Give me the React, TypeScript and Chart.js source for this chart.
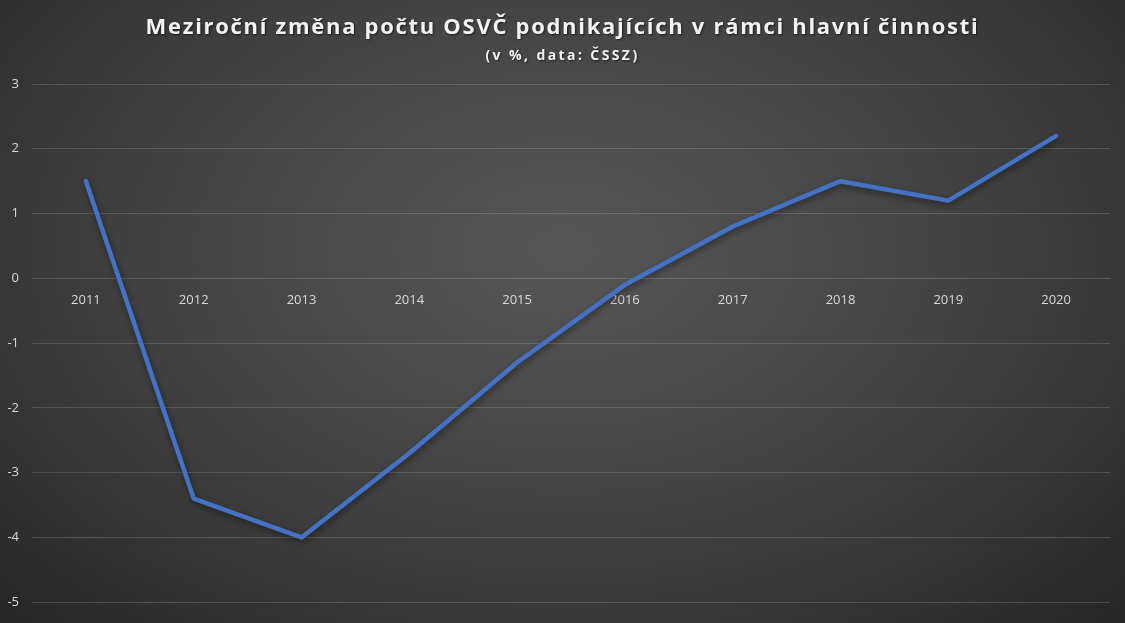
import React, { useEffect, useRef } from "react";
import { Chart, registerables } from "chart.js";

Chart.register(...registerables);

const years = ["2011", "2012", "2013", "2014", "2015", "2016", "2017", "2018", "2019", "2020"];
const changePct = [1.5, -3.4, -4.0, -2.7, -1.3, -0.1, 0.8, 1.5, 1.2, 2.2];
const titleText = "Meziroční změna počtu OSVČ podnikajících v rámci hlavní činnosti";
const subtitleText = "(v %, data: ČSSZ)";

const shadowPlugin = {
  id: "lineShadow",
  beforeDatasetDraw(chart: any) {
    const ctx = chart.ctx;
    ctx.save();
    ctx.shadowColor = "rgba(0,0,0,0.45)";
    ctx.shadowBlur = 6;
    ctx.shadowOffsetX = 1;
    ctx.shadowOffsetY = 3;
  },
  afterDatasetDraw(chart: any) {
    chart.ctx.restore();
  },
};

export default function App() {
  const ref = useRef<HTMLCanvasElement>(null);

  useEffect(() => {
    document.body.style.margin = "0";
    const canvas = ref.current!;
    const chart = new Chart(canvas, {
      type: "line",
      data: {
        labels: years,
        datasets: [
          {
            data: changePct,
            borderColor: "#4472C4",
            borderWidth: 4.5,
            pointRadius: 0,
            tension: 0,
            borderCapStyle: "round",
            borderJoinStyle: "round",
          },
        ],
      },
      options: {
        animation: false,
        responsive: false,
        layout: { padding: { left: 6, right: 15, top: 84, bottom: 8 } },
        plugins: {
          legend: { display: false },
          tooltip: { enabled: false },
          title: { display: false },
        },
        scales: {
          x: {
            offset: true,
            position: { y: 0 } as any,
            grid: { display: false },
            border: { display: false },
            ticks: {
              color: "#d9d9d9",
              font: { family: "'Open Sans'", size: 13 },
              padding: 6,
              maxRotation: 0,
            },
          },
          y: {
            min: -5,
            max: 3,
            afterFit(scale: any) {
              scale.width = 26;
            },
            grid: { color: "rgba(255,255,255,0.16)", drawTicks: false, lineWidth: 1 },
            border: { display: false },
            ticks: {
              stepSize: 1,
              color: "#d9d9d9",
              font: { family: "'Open Sans'", size: 13 },
              padding: 13,
            },
          },
        },
      },
      plugins: [shadowPlugin],
    });
    return () => chart.destroy();
  }, []);

  const textStyle: React.CSSProperties = {
    position: "absolute",
    left: 0,
    width: 1125,
    textAlign: "center",
    color: "#f2f2f2",
    fontFamily: "'Open Sans', sans-serif",
    fontWeight: 700,
    whiteSpace: "nowrap",
    textShadow: "1px 1px 2px rgba(0,0,0,0.55)",
  };

  return (
    <div
      style={{
        position: "absolute",
        left: 0,
        top: 0,
        width: 1125,
        height: 623,
        overflow: "hidden",
        background: "radial-gradient(ellipse at 50% 40%, #575757 0%, #404040 55%, #262626 100%)",
      }}
    >
      <canvas ref={ref} width={1125} height={623} style={{ display: "block" }} />
      <div style={{ ...textStyle, top: 10, fontSize: 22, lineHeight: "30px", letterSpacing: "1.7px" }}>
        {titleText}
      </div>
      <div style={{ ...textStyle, top: 45, fontSize: 14, lineHeight: "20px", letterSpacing: "2.4px" }}>
        {subtitleText}
      </div>
    </div>
  );
}
